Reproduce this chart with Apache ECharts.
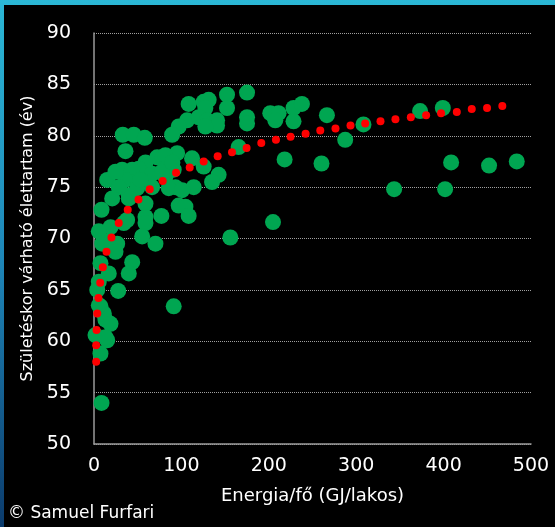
<!DOCTYPE html>
<html>
<head>
<meta charset="utf-8">
<script src="https://cdn.jsdelivr.net/npm/echarts@6/dist/echarts.min.js"></script>
<style>
html,body{margin:0;padding:0;width:555px;height:527px;overflow:hidden;
background:linear-gradient(180deg,#2bb8d6 0%,#1e86b8 50%,#0b3b6c 100%);}
#box{position:absolute;left:4px;top:5px;width:551px;height:522px;background:#000;}
#chart{position:absolute;left:0;top:0;width:555px;height:527px;}
</style>
</head>
<body>
<div id="box"></div>
<div id="chart"></div>
<script>
// Energy per capita (GJ/person) and life expectancy (years), one entry per country
const energyGJ = [108.3,125.5,131.2,152.2,175.1,127.4,152.2,106.5,96.9,89.4,
  119.8,129.4,140.8,140.8,127.4,175.1,175.1,165.5,95.1,112.2,
  125.5,142.6,135.1,114.1,93.1,201.7,211.2,207.4,228.3,237.9,
  228.3,266.5,287.4,308.3,373.1,399.1,218.1,260.3,408.6,452.0,
  483.7,343.4,401.7,204.8,32.9,45.5,58.1,36.0,58.9,72.2,
  78.3,51.2,32.2,43.7,36.0,15.1,28.3,39.8,49.4,66.5,
  81.7,85.5,66.5,53.1,85.5,20.8,8.6,58.9,58.9,77.1,
  96.9,104.6,108.3,58.9,34.1,18.9,5.5,55.1,70.3,26.5,
  9.4,43.7,39.8,7.4,16.9,156.0,39.8,37.9,15.1,5.5,
  3.7,27.7,7.4,13.1,15.1,1.7,7.4,91.2,8.6,24.6,
  11.2,18.9,5.5,13.1,24.6,81.7,91.2,77.9,100.8,89.7];
const lifeExp = [83.1,83.3,83.5,84.0,84.2,82.7,82.7,81.5,80.9,80.1,
  81.8,81.5,81.5,81.0,80.9,81.8,81.2,78.9,78.3,77.8,
  77.0,76.2,75.5,75.0,75.0,82.2,82.2,81.5,82.7,83.1,
  81.4,82.0,79.6,81.1,82.4,82.7,77.7,77.3,77.4,77.1,
  77.5,74.8,74.8,71.6,80.1,80.1,79.8,78.5,77.4,77.9,
  77.9,76.8,76.7,76.7,75.7,75.7,75.0,74.2,74.9,75.0,
  76.0,74.9,76.3,75.7,77.1,73.9,72.8,73.4,72.1,72.2,
  73.2,73.1,72.2,71.5,71.5,71.1,70.7,70.2,69.5,69.5,
  69.5,67.7,66.6,67.6,66.6,70.1,73.9,71.8,69.7,65.8,
  65.0,64.9,63.4,62.1,60.1,60.6,58.8,63.4,54.0,68.7,
  62.7,61.7,63.5,60.4,76.5,78.1,76.7,76.5,74.7,77.4];
// Trendline dots
const trendX = [2.5,2.5,2.9,3.7,5.1,7.1,10.1,14.3,20.0,28.3,38.6,50.9,63.8,78.6,93.9,
  109.5,125.5,141.5,157.9,174.6,191.4,208.2,224.9,242.1,258.9,276.3,293.5,310.3,327.8,
  344.9,362.5,380.0,397.1,415.1,432.2,449.7,467.2];
const trendY = [58.0,59.6,61.1,62.7,64.2,65.7,67.2,68.7,70.1,71.5,72.8,73.8,74.8,75.6,76.4,
  76.9,77.5,78.0,78.4,78.8,79.3,79.6,79.9,80.2,80.5,80.7,81.0,81.2,81.4,
  81.6,81.8,82.0,82.2,82.3,82.6,82.7,82.9];
const xTicks = [0,100,200,300,400,500];
const yTicks = [50,55,60,65,70,75,80,85,90];

const F = '"DejaVu Sans", sans-serif';
const chart = echarts.init(document.getElementById('chart'));
chart.setOption({
  backgroundColor: 'transparent',
  animation: false,
  grid: {left: 94, right: 24, top: 33, bottom: 83},
  xAxis: {
    type: 'value', min: xTicks[0], max: xTicks[xTicks.length-1], interval: 100,
    axisLine: {show: true, lineStyle: {color: '#9a9a9a', width: 1.5}},
    axisTick: {show: false},
    splitLine: {show: false},
    axisLabel: {color: '#ffffff', fontSize: 19, fontFamily: F, margin: 13},
    name: 'Energia/fő (GJ/lakos)', nameLocation: 'middle', nameGap: 43,
    nameTextStyle: {color: '#ffffff', fontSize: 18, fontFamily: F}
  },
  yAxis: {
    type: 'value', min: yTicks[0], max: yTicks[yTicks.length-1], interval: 5,
    axisLine: {show: true, lineStyle: {color: '#9a9a9a', width: 1.5}},
    axisTick: {show: false},
    splitLine: {show: true, lineStyle: {color: '#a0a0a0', type: [1, 1], width: 1}},
    axisLabel: {color: '#ffffff', fontSize: 19, fontFamily: F, margin: 23},
    name: 'Születéskor várható élettartam (év)', nameLocation: 'middle', nameGap: 55, nameRotate: 90,
    nameTextStyle: {color: '#ffffff', fontSize: 16, fontFamily: F}
  },
  graphic: [{
    type: 'text', left: 8, top: 505,
    style: {text: '© Samuel Furfari', fill: '#ffffff', font: '17px ' + F}
  }],
  series: [{
    type: 'scatter', symbol: 'circle', symbolSize: 16,
    itemStyle: {color: '#00a651', opacity: 1},
    data: energyGJ.map((v, i) => [v, lifeExp[i]]), z: 2
  }, {
    type: 'scatter', symbol: 'circle', symbolSize: 8,
    itemStyle: {color: '#ff0000', opacity: 1},
    data: trendX.map((v, i) => [v, trendY[i]]), z: 3
  }]
});
</script>
</body>
</html>
